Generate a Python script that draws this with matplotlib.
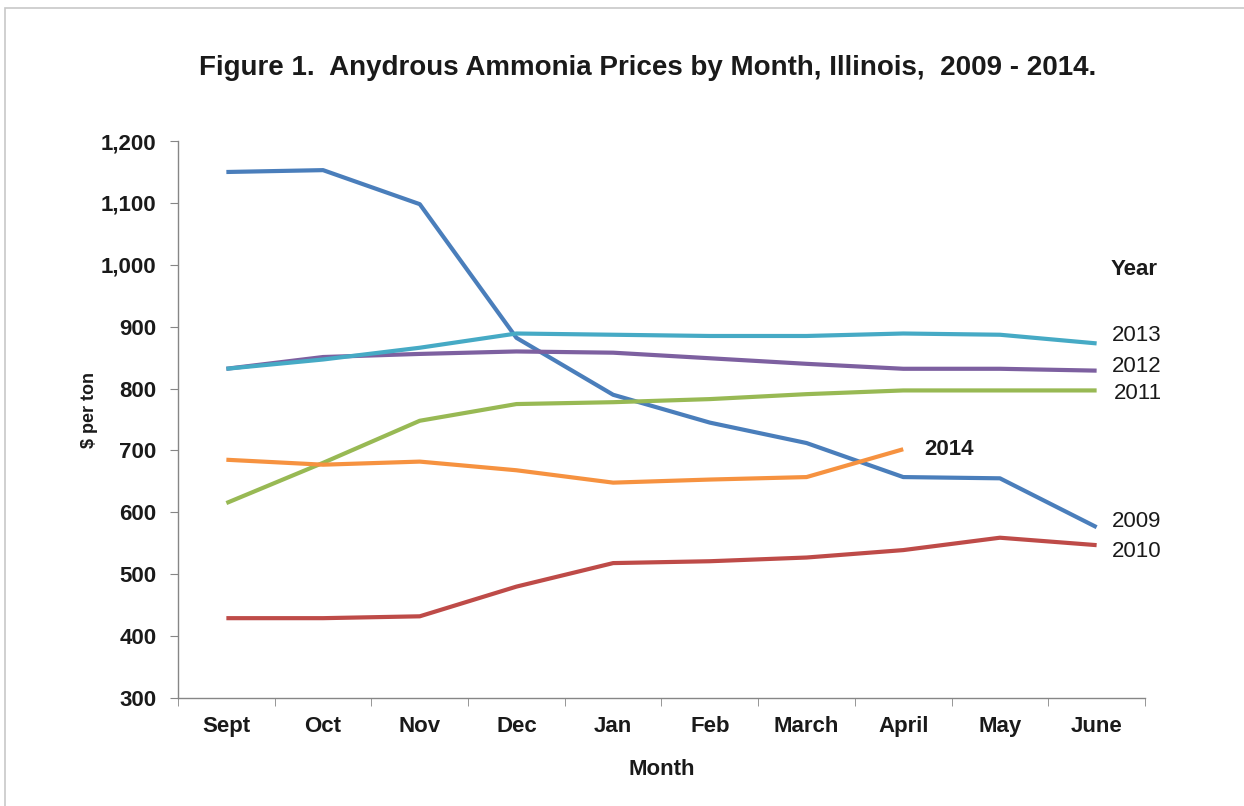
import matplotlib
matplotlib.use("Agg")
import matplotlib.pyplot as plt
from matplotlib.patches import Rectangle
import numpy as np

months = ["Sept", "Oct", "Nov", "Dec", "Jan", "Feb", "March", "April", "May", "June"]
y2009 = [1150, 1153, 1098, 882, 790, 745, 712, 657, 655, 576]
y2010 = [429, 429, 432, 480, 518, 521, 527, 539, 559, 547]
y2011 = [615, 680, 748, 775, 778, 783, 791, 797, 797, 797]
y2012 = [832, 851, 856, 860, 858, 849, 840, 832, 832, 829]
y2013 = [832, 847, 866, 889, 887, 885, 885, 889, 887, 873]
y2014 = [685, 677, 682, 668, 648, 653, 657, 702]
yticks = [300, 400, 500, 600, 700, 800, 900, 1000, 1100, 1200]

plt.rcParams['font.family'] = ['Liberation Sans', 'DejaVu Sans']

fig = plt.figure(figsize=(12.44, 8.06), dpi=100)
fig.patches.append(Rectangle((0.004, -0.01), 1.1, 1.0,
                             transform=fig.transFigure, fill=False,
                             edgecolor='#c8c8c8', linewidth=1.2))
ax = fig.add_axes([0.1431, 0.134, 0.7773, 0.691])

x = np.arange(len(months))
series = [
    (y2009, '#4A7EBB'),
    (y2010, '#BE4B48'),
    (y2011, '#98B954'),
    (y2012, '#7D60A0'),
    (y2013, '#46AAC5'),
]
lw = 3.0
for vals, col in series:
    ax.plot(x, vals, color=col, linewidth=lw, solid_capstyle='butt', solid_joinstyle='round')
ax.plot(x[:len(y2014)], y2014, color='#F69240', linewidth=lw, solid_capstyle='butt', solid_joinstyle='round')

ax.set_xlim(-0.5, len(months) - 0.5)
ax.set_ylim(300, 1200)
ax.set_yticks(yticks)
ax.set_yticklabels([f"{v:,}" for v in yticks], fontsize=16, fontweight='bold', color='#1a1a1a')
ax.set_xticks(x)
ax.set_xticklabels(months, fontsize=16, fontweight='bold', color='#1a1a1a')
ax.set_xticks(np.arange(-0.5, len(months)), minor=True)
ax.tick_params(axis='x', which='major', length=0, pad=13)
ax.tick_params(axis='x', which='minor', length=5.5, color='#868686', direction='out')
ax.tick_params(axis='y', length=5.5, color='#868686', direction='out', pad=10)

for s in ['top', 'right']:
    ax.spines[s].set_visible(False)
for s in ['left', 'bottom']:
    ax.spines[s].set_color('#868686')
    ax.spines[s].set_linewidth(1.0)

ax.set_xlabel("Month", fontsize=16, fontweight='bold', color='#1a1a1a')
ax.xaxis.set_label_coords(0.5, -0.11)
ax.set_ylabel("$ per ton", fontsize=13, fontweight='bold', color='#1a1a1a')
ax.yaxis.set_label_coords(-0.083, 0.517)

fig.text(0.521, 0.9156, "Figure 1.  Anydrous Ammonia Prices by Month, Illinois,  2009 - 2014.",
         ha='center', va='center', fontsize=20, fontweight='bold', color='#1a1a1a')

# end labels
lab_x = len(months) - 1 + 0.16
fs = 16
ax.text(lab_x, y2013[-1] + 12, "2013", fontsize=fs, va='center', ha='left', color='#1a1a1a')
ax.text(lab_x, y2012[-1] + 6, "2012", fontsize=fs, va='center', ha='left', color='#1a1a1a')
ax.text(lab_x + 0.02, y2011[-1] - 5, "2011", fontsize=fs, va='center', ha='left', color='#1a1a1a')
ax.text(lab_x, y2009[-1] + 10, "2009", fontsize=fs, va='center', ha='left', color='#1a1a1a')
ax.text(lab_x, y2010[-1] - 10, "2010", fontsize=fs, va='center', ha='left', color='#1a1a1a')
ax.text(lab_x - 0.02, 992, "Year", fontsize=fs, fontweight='bold', va='center', ha='left', color='#1a1a1a')
ax.text(len(y2014) - 1 + 0.22, y2014[-1] + 0, "2014", fontsize=fs, fontweight='bold',
        va='center', ha='left', color='#1a1a1a')

fig.savefig("out.png", dpi=100)
